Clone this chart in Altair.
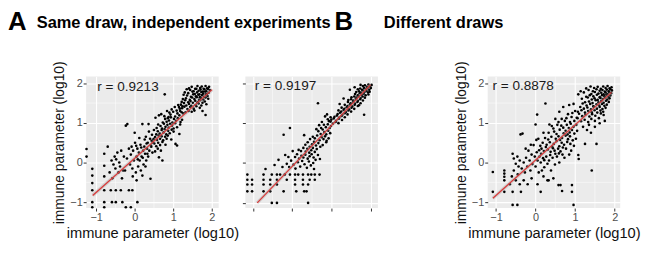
import altair as alt
import pandas as pd

# ---------------- data ----------------
p1_points = [
    # dense upper-right cluster
    (1.93,1.91),(1.88,1.87),(1.84,1.93),(1.79,1.86),(1.74,1.92),(1.70,1.88),(1.63,1.93),(1.57,1.86),(1.48,1.91),(1.41,1.87),
    (1.95,1.83),(1.90,1.86),(1.86,1.80),(1.81,1.85),(1.77,1.79),(1.71,1.84),(1.66,1.81),(1.60,1.86),(1.53,1.80),(1.44,1.83),(1.35,1.85),
    (1.92,1.76),(1.87,1.73),(1.83,1.79),(1.78,1.74),(1.73,1.78),(1.68,1.72),(1.62,1.77),(1.56,1.73),(1.50,1.79),(1.39,1.75),(1.30,1.77),
    (1.89,1.68),(1.85,1.72),(1.80,1.66),(1.75,1.70),(1.69,1.65),(1.65,1.71),(1.59,1.67),(1.52,1.72),(1.46,1.66),(1.36,1.69),(1.27,1.71),
    (1.91,1.61),(1.84,1.64),(1.78,1.59),(1.72,1.63),(1.67,1.58),(1.61,1.65),(1.55,1.60),(1.49,1.64),(1.43,1.58),(1.33,1.62),(1.25,1.60),
    (1.82,1.54),(1.76,1.51),(1.70,1.57),(1.63,1.52),(1.57,1.56),(1.51,1.51),(1.45,1.55),(1.39,1.52),(1.31,1.57),(1.22,1.53),
    (1.86,1.47),(1.73,1.44),(1.66,1.49),(1.58,1.45),(1.47,1.43),(1.41,1.48),(1.34,1.44),(1.28,1.50),(1.20,1.46),
    (1.69,1.38),(1.60,1.42),(1.53,1.36),(1.44,1.40),(1.37,1.35),(1.29,1.41),(1.23,1.37),
    (1.76,1.30),(1.84,1.20),(1.55,1.31),(1.48,1.28),(1.40,1.30),(1.32,1.27),(1.26,1.24),(1.18,1.30),(1.15,1.40),
    # middle band
    (1.24,1.42),(1.17,1.36),(1.09,1.31),(1.04,1.40),(0.96,1.34),(0.84,1.30),(1.13,1.45),
    (1.22,1.27),(1.16,1.19),(1.11,1.24),(1.05,1.16),(1.00,1.28),(0.93,1.21),(0.88,1.15),(0.77,1.17),(0.69,1.22),(0.63,1.19),(0.90,1.26),
    (1.23,1.08),(1.19,1.02),(1.12,1.12),(1.07,1.05),(1.02,1.10),(0.98,1.01),(0.94,1.14),(0.89,1.06),(0.83,1.03),(0.79,1.10),
    (0.73,1.01),(0.54,1.13),(0.86,1.12),
    (1.18,0.96),(1.10,0.89),(1.05,0.99),(1.01,0.86),(0.97,0.93),(0.92,0.98),(0.88,0.88),(0.85,0.95),(0.80,0.90),(0.76,0.98),
    (0.71,0.86),(0.67,0.92),(0.61,0.96),(0.57,0.87),
    (1.16,0.72),(1.01,0.78),(0.96,0.83),(0.91,0.74),(0.87,0.80),(0.82,0.71),(0.78,0.84),(0.75,0.76),(0.70,0.82),(0.65,0.73),
    (0.60,0.79),(0.56,0.71),(0.50,0.82),
    (0.95,0.58),(0.86,0.68),(0.83,0.60),(0.79,0.65),(0.74,0.56),(0.70,0.66),(0.66,0.60),(0.62,0.68),(0.58,0.57),(0.53,0.64),(0.49,0.59),
    (1.06,0.47),(1.10,0.43),(0.80,0.45),(0.72,0.52),(0.66,0.44),(0.61,0.50),(0.56,0.41),(0.51,0.48),(0.46,0.53),(0.42,0.43),
    (0.78,1.72),(0.72,0.05),(0.63,0.13),(0.60,0.35),(0.53,0.28),(0.68,0.30),
    # lower middle
    (0.48,0.50),(0.46,0.25),(0.45,0.70),(0.43,0.40),(0.41,-0.41),(0.40,0.60),(0.38,0.30),(0.36,0.97),(0.35,0.15),(0.34,0.50),
    (0.32,0.35),(0.30,0.05),(0.29,0.65),(0.27,0.22),(0.25,0.40),(0.23,-0.05),(0.22,0.30),(0.20,0.97),(0.20,-0.33),(0.18,0.15),
    (0.16,-0.20),(0.15,0.45),(0.13,0.05),(0.11,0.25),(0.09,-0.10),(0.07,0.35),(0.05,0.15),(0.03,-0.25),(0.01,0.50),(0.00,0.75),
    (-0.02,0.05),(-0.04,0.30),(-0.06,-0.15),(-0.08,0.40),(-0.10,0.20),(-0.12,-0.05),(-0.15,0.35),(-0.19,0.97),(-0.20,0.10),
    (-0.23,0.93),(-0.25,-0.20),(-0.28,0.15),(0.05,-0.45),(-0.05,-0.35),(0.28,-0.10),
    (0.37,0.78),(0.33,0.22),(0.31,0.48),(0.26,0.58),(0.21,0.12),(0.17,0.38),(0.12,0.62),(0.08,0.08),(0.04,0.42),(0.44,0.55),
    # lower left, partly on discrete levels
    (-1.25,0.34),(-1.25,0.15),
    (-1.10,-0.16),(-1.10,-0.33),(-1.10,-0.52),(-1.10,-0.70),(-1.10,-1.00),(-1.10,-1.13),
    (-0.79,0.22),(-0.79,-0.08),(-0.79,-0.35),(-0.79,-0.70),(-0.79,-1.00),(-0.79,-1.13),
    (-0.62,-0.70),(-0.49,-0.70),(-0.36,-0.70),(-0.15,-0.70),(-0.06,-0.70),
    (-0.59,-1.00),(-0.49,-1.00),(-0.32,-1.00),(0.07,-1.00),(-0.23,-1.13),(-0.10,-1.13),
    (-0.60,0.05),(-0.55,-0.05),(-0.52,0.15),(-0.50,-0.15),(-0.48,0.08),(-0.45,0.25),(-0.42,-0.25),(-0.40,0.00),(-0.38,-0.10),
    (-0.35,0.30),(-0.33,-0.40),(-0.30,-0.20),(-0.65,-0.25),(-0.70,0.40),(-0.58,-0.40),
]

p2_points = [
    # dense upper-right cluster
    (2.01,1.96),(1.97,1.92),(1.93,1.97),(1.89,1.91),(1.84,1.95),(1.79,1.93),(1.73,1.96),
    (1.99,1.88),(1.95,1.84),(1.91,1.89),(1.87,1.85),(1.82,1.88),(1.77,1.84),(1.72,1.87),(1.66,1.85),
    (1.96,1.79),(1.92,1.77),(1.88,1.81),(1.83,1.78),(1.79,1.82),(1.74,1.77),(1.69,1.80),(1.62,1.78),
    (1.93,1.72),(1.86,1.70),(1.81,1.74),(1.76,1.71),(1.71,1.75),(1.66,1.70),(1.59,1.73),
    (1.84,1.64),(1.78,1.67),(1.73,1.63),(1.68,1.68),(1.63,1.64),(1.57,1.67),(1.50,1.65),
    (1.79,1.57),(1.72,1.60),(1.66,1.56),(1.61,1.61),(1.55,1.57),(1.49,1.60),(1.42,1.58),
    (1.73,1.50),(1.65,1.53),(1.59,1.49),(1.54,1.54),(1.48,1.50),(1.41,1.53),
    (1.66,1.43),(1.58,1.46),(1.52,1.42),(1.46,1.47),(1.40,1.43),(1.33,1.46),
    (1.57,1.36),(1.50,1.39),(1.44,1.35),(1.38,1.40),(1.32,1.36),(1.25,1.39),
    (1.49,1.29),(1.42,1.32),(1.36,1.28),(1.30,1.33),(1.24,1.29),(1.17,1.32),
    (1.40,1.22),(1.33,1.25),(1.27,1.21),(1.21,1.26),(1.15,1.23),
    (1.33,1.15),(1.25,1.18),(1.19,1.14),(1.13,1.19),(1.07,1.16),
    (1.26,1.08),(1.18,1.11),(1.11,1.06),(1.05,1.12),(0.99,1.09),
    (1.17,1.00),(1.10,1.03),(1.03,0.99),(0.97,1.04),
    (1.82,1.21),(1.69,1.45),(0.65,1.50),(1.58,1.90),(1.46,1.84),(1.30,1.62),(1.20,1.48),
    # middle
    (0.97,1.15),(0.90,1.10),(0.83,1.17),(0.75,1.03),(0.88,1.22),(0.93,1.05),
    (0.98,0.93),(0.95,0.88),(0.90,0.97),(0.85,0.90),(0.80,0.96),(0.73,0.88),(0.68,0.95),(-0.06,0.88),
    (0.96,0.75),(0.91,0.81),(0.86,0.72),(0.81,0.78),(0.77,0.84),(0.72,0.73),(0.66,0.80),(0.61,0.85),(-0.22,0.71),(0.30,0.70),
    (0.92,0.62),(0.87,0.56),(0.83,0.67),(0.79,0.60),(0.74,0.65),(0.69,0.57),(0.63,0.69),(0.57,0.62),(0.52,0.66),(0.45,0.60),
    (0.86,0.52),(0.77,0.45),(0.71,0.41),(0.66,0.50),(0.60,0.44),(0.55,0.53),(0.50,0.47),(0.44,0.41),(0.39,0.52),(0.33,0.46),
    (0.62,0.35),(0.57,0.28),(0.52,0.38),(0.48,0.32),(0.43,0.26),(0.38,0.36),(0.34,0.29),(0.28,0.38),(0.22,0.30),(0.16,0.33),(0.01,0.30),
    (0.65,0.20),(0.54,0.14),(0.49,0.22),(0.44,0.17),(0.39,0.11),(0.33,0.21),(0.28,0.14),(0.23,0.18),(0.17,0.11),(0.12,0.22),
    (0.07,0.15),(-0.10,0.15),(-0.18,0.20),(0.70,0.10),
    (0.59,0.08),(0.53,0.00),(0.47,-0.06),(0.42,0.04),(0.37,-0.12),(0.31,-0.03),(0.25,0.05),(0.20,-0.09),(0.14,0.02),(0.08,-0.14),
    (0.03,-0.04),(-0.03,0.06),(-0.08,-0.10),(-0.14,-0.02),(-0.25,-0.10),(0.55,-0.15),(-0.35,0.08),(-0.45,-0.05),
    # discrete low levels
    (-0.73,-0.29),(-0.52,-0.29),(-0.39,-0.29),(-0.31,-0.29),(-0.19,-0.29),(-0.06,-0.29),(0.07,-0.29),(0.15,-0.29),(0.27,-0.29),
    (0.40,-0.29),(0.48,-0.29),(0.57,-0.29),(0.69,-0.29),
    (-0.73,-0.42),(-0.56,-0.42),(-0.39,-0.42),(-0.14,-0.42),(0.07,-0.42),(0.27,-0.42),(0.44,-0.42),(0.57,-0.42),
    (-0.73,-0.54),(-0.56,-0.54),(-0.39,-0.54),(0.07,-0.54),(0.27,-0.54),(0.40,-0.54),
    (-0.73,-0.71),(-0.56,-0.71),(-0.22,-0.71),(0.10,-0.71),(0.30,-0.71),(0.36,-0.71),
    (-0.52,-1.00),(-0.39,-1.00),(0.40,-1.00),
    (-1.14,-0.29),(-1.14,-0.42),(-1.14,-0.54),(-1.14,-0.71),(-1.02,-0.42),(-1.02,-0.54),(-1.02,-0.71),
    (-0.68,-0.15),
]

p3_points = [
    # upper-right cluster
    (1.92,1.90),(1.87,1.87),(1.82,1.93),(1.77,1.88),(1.71,1.92),(1.65,1.86),(1.57,1.91),(1.48,1.88),(1.39,1.92),(1.28,1.87),
    (1.93,1.82),(1.89,1.85),(1.85,1.80),(1.80,1.84),(1.75,1.79),(1.69,1.83),(1.62,1.81),(1.54,1.85),(1.45,1.80),(1.34,1.83),(1.14,1.80),
    (1.91,1.75),(1.86,1.78),(1.82,1.73),(1.77,1.77),(1.72,1.72),(1.66,1.76),(1.59,1.74),(1.50,1.78),(1.41,1.73),(1.22,1.77),(1.08,1.72),
    (1.89,1.69),(1.84,1.66),(1.79,1.71),(1.74,1.67),(1.68,1.70),(1.62,1.65),(1.55,1.71),(1.46,1.67),(1.37,1.70),(1.28,1.66),
    (1.87,1.62),(1.81,1.59),(1.76,1.64),(1.70,1.60),(1.64,1.63),(1.57,1.58),(1.49,1.62),(1.42,1.59),(1.32,1.64),(1.17,1.61),
    (1.85,1.53),(1.78,1.56),(1.72,1.51),(1.66,1.55),(1.59,1.52),(1.52,1.57),(1.44,1.50),(1.35,1.54),(1.25,1.52),
    (1.80,1.46),(1.74,1.43),(1.68,1.48),(1.61,1.44),(1.54,1.47),(1.46,1.42),(1.38,1.48),(1.29,1.44),(1.19,1.49),
    (1.77,1.38),(1.69,1.35),(1.62,1.40),(1.55,1.36),(1.47,1.41),(1.40,1.34),(1.31,1.39),(1.22,1.36),(1.13,1.40),
    (1.71,1.28),(1.64,1.31),(1.56,1.26),(1.49,1.32),(1.42,1.27),(1.33,1.30),(1.25,1.26),(1.16,1.32),(1.07,1.28),
    (1.72,1.20),(1.65,1.24),(1.51,1.18),(1.43,1.22),(1.36,1.16),(1.26,1.21),(1.18,1.17),(1.10,1.23),
    (1.60,1.12),(1.50,1.05),(1.41,1.10),(1.33,1.02),(1.24,1.08),(1.15,1.04),(1.06,1.12),
    (1.54,0.47),(1.42,-0.20),(1.25,0.47),(1.08,0.19),(1.09,0.09),(1.35,0.95),(1.75,1.05),(1.40,0.75),(1.50,0.90),(1.30,0.82),
    (1.20,0.90),(1.62,0.99),
    # broad middle
    (1.00,1.30),(0.93,1.25),(0.82,1.22),(0.70,1.40),(0.85,1.45),(0.96,1.48),(0.25,1.49),(0.04,1.21),(0.60,1.28),
    (1.04,1.13),(0.98,1.05),(0.91,1.15),(0.87,1.02),(0.78,1.12),(0.74,1.05),(0.66,1.10),(0.50,1.10),(0.58,1.02),
    (1.03,0.95),(0.96,0.90),(0.89,0.98),(0.84,0.87),(0.79,0.95),(0.70,0.88),(0.65,0.93),(0.55,0.95),(0.45,0.86),(0.41,0.92),
    (0.35,0.96),(0.00,0.96),
    (1.05,0.80),(0.98,0.73),(0.92,0.82),(0.86,0.76),(0.81,0.71),(0.76,0.80),(0.71,0.74),(0.61,0.83),(0.53,0.72),(0.47,0.78),
    (0.33,0.75),(0.20,0.75),(-0.33,0.73),(-0.38,0.71),
    (1.02,0.60),(0.94,0.56),(0.87,0.66),(0.82,0.59),(0.76,0.68),(0.67,0.62),(0.62,0.57),(0.58,0.66),(0.51,0.60),(0.40,0.65),
    (0.32,0.58),(0.24,0.62),(0.07,0.60),(0.02,0.57),
    (0.97,0.42),(0.88,0.47),(0.80,0.52),(0.72,0.45),(0.66,0.50),(0.60,0.41),(0.53,0.54),(0.46,0.47),(0.42,0.40),(0.36,0.51),
    (0.28,0.45),(0.18,0.50),(0.12,0.42),(-0.05,0.44),(-0.12,0.45),
    (0.90,0.30),(0.77,0.35),(0.69,0.38),(0.63,0.28),(0.57,0.35),(0.48,0.30),(0.44,0.36),(0.38,0.27),(0.31,0.33),(0.26,0.39),
    (0.21,0.29),(0.15,0.35),(0.09,0.31),(0.03,0.26),(-0.18,0.30),(-0.25,0.35),
    (0.85,0.20),(0.73,0.12),(0.68,0.20),(0.59,0.23),(0.54,0.15),(0.50,0.22),(0.43,0.12),(0.37,0.19),(0.27,0.15),(0.19,0.11),
    (0.14,0.22),(0.10,0.15),(-0.02,0.15),(-0.10,0.20),(-0.24,0.12),(-0.46,0.15),(-0.55,0.10),(-0.58,0.22),
    (0.60,0.00),(0.49,-0.05),(0.34,0.05),(0.30,-0.03),(0.22,0.06),(0.13,0.00),(0.05,0.05),(-0.08,-0.04),(-0.15,0.05),(-0.30,0.00),
    (-0.40,0.05),(-0.50,-0.03),
    (0.39,-0.20),(0.22,-0.12),(0.16,-0.20),(0.08,-0.25),(0.00,-0.10),(-0.13,-0.20),(-0.21,-0.10),(-0.27,-0.25),(-0.35,-0.15),
    (-0.43,-0.10),
    # lower part
    (-1.08,-0.24),(-1.08,-0.74),(-0.79,-0.20),(-0.79,-0.28),(-0.79,-0.36),(-0.79,-0.45),(-0.79,-0.74),(-0.58,-0.74),(-0.37,-0.74),
    (-0.58,-1.07),(-0.46,-1.07),(0.96,-1.07),(0.13,-0.74),(0.63,-0.57),(0.67,-0.72),(0.92,-0.57),(0.92,-0.74),(0.33,-0.45),
    (0.30,-0.45),(0.58,-0.57),(-0.60,-0.35),(-0.50,-0.45),(-0.40,-0.55),(-0.30,-0.45),(-0.20,-0.55),(-0.55,-0.20),(-0.45,-0.30),
    (-0.10,-0.40),(0.05,-0.55),(0.20,-0.35),(0.45,-0.40),(-0.65,-0.55),
]

# fitted (lm) line end points
fit1_x = [-1.09, 2.01]
fit1_y = [-0.83, 1.84]
fit2_x = [-0.89, 1.98]
fit2_y = [-1.00, 1.96]
fit3_x = [-1.08, 1.92]
fit3_y = [-0.90, 1.77]

# axis domains of each panel
x_dom1 = [-1.26, 2.18]
y_dom1 = [-1.15, 2.17]
x_dom2 = [-1.19, 2.17]
y_dom2 = [-1.13, 2.17]
x_dom3 = [-1.21, 2.14]
y_dom3 = [-1.15, 2.17]

tick_values = [-1, 0, 1, 2]
minor_values = [-0.5, 0.5, 1.5]

r_labels = ["r = 0.9213", "r = 0.9197", "r = 0.8878"]
r_x = [-0.97, -0.95, -1.09]
r_y = [1.90, 1.92, 1.94]

axis_title = "immune parameter (log10)"
letters = ["A", "B"]
headings = ["Same draw, independent experiments", "Different draws"]

FONT = "Liberation Sans"
W, H = 134, 133


def make_axis(show, title, tsize):
    if show:
        return alt.Axis(values=tick_values, title=title, grid=True, gridColor="white",
                        gridWidth=1.1, domain=False, ticks=True, tickSize=3,
                        tickColor="#333333", labelFontSize=11, labelColor="#4d4d4d",
                        labelFont=FONT, labelPadding=1, titleFont=FONT,
                        titleFontSize=tsize, titleFontWeight="normal", titleColor="#111111",
                        titlePadding=3, format="d")
    return alt.Axis(values=tick_values, title=None, grid=True, gridColor="white",
                    gridWidth=1.1, domain=False, ticks=True, tickSize=3,
                    tickColor="#333333", labels=False)


def panel(points, fx, fy, xdom, ydom, idx, show, head=None):
    pts = pd.DataFrame(points, columns=["x", "y"])
    fit = pd.DataFrame({"x": fx, "y": fy})
    xs = alt.Scale(domain=xdom, nice=False, zero=False)
    ys = alt.Scale(domain=ydom, nice=False, zero=False)
    xa = make_axis(show, axis_title if show else None, 14.8)
    ya = make_axis(show, axis_title if show else None, 14)
    X = alt.X("x:Q", scale=xs, axis=xa)
    Y = alt.Y("y:Q", scale=ys, axis=ya)

    minor_v = alt.Chart(pd.DataFrame({"x": minor_values})).mark_rule(
        color="white", strokeWidth=0.5).encode(x=X)
    minor_h = alt.Chart(pd.DataFrame({"y": minor_values})).mark_rule(
        color="white", strokeWidth=0.5).encode(y=Y)
    dots = alt.Chart(pts).mark_circle(size=7, color="black", opacity=1).encode(x=X, y=Y)
    band = alt.Chart(fit).mark_line(color="#9a9a9a", strokeWidth=3.5, opacity=0.35).encode(x=X, y=Y)
    line = alt.Chart(fit).mark_line(color="#d93a3a", strokeWidth=1.3).encode(x=X, y=Y)
    rtxt = alt.Chart(pd.DataFrame({"x": [r_x[idx]], "y": [r_y[idx]], "t": [r_labels[idx]]})).mark_text(
        align="left", baseline="middle", fontSize=13.7, font=FONT, color="#1a1a1a"
    ).encode(x=X, y=Y, text="t:N")
    layers = [minor_v, minor_h, dots, band, line, rtxt]
    if head is not None:
        k, lx, hx = head
        hd = pd.DataFrame({"L": [letters[k]], "T": [headings[k]]})
        letter = alt.Chart(hd).mark_text(
            align="left", baseline="alphabetic", fontSize=26, fontWeight="bold",
            font=FONT, color="black").encode(x=alt.value(lx), y=alt.value(-47), text="L:N")
        heading = alt.Chart(hd).mark_text(
            align="left", baseline="alphabetic", fontSize=16.6, fontWeight="bold",
            font=FONT, color="black").encode(x=alt.value(hx), y=alt.value(-49), text="T:N")
        layers += [letter, heading]
    return alt.layer(*layers).properties(
        width=W, height=H, view=alt.ViewBackground(fill="#EBEBEB", strokeWidth=0))


p1 = panel(p1_points, fit1_x, fit1_y, x_dom1, y_dom1, 0, True, head=(0, -79, -50))
p2 = panel(p2_points, fit2_x, fit2_y, x_dom2, y_dom2, 1, False)
p3 = panel(p3_points, fit3_x, fit3_y, x_dom3, y_dom3, 2, True, head=(1, -155, -105))

spacer = alt.Chart(pd.DataFrame({"v": [0]})).mark_point(opacity=0).encode(
    x=alt.X("v:Q", axis=None), y=alt.Y("v:Q", axis=None)
).properties(width=57, height=H)

chart = alt.hconcat(p1, p2, spacer, p3, spacing=27, bounds="flush").properties(
    padding=0, background="white"
).configure_view(strokeWidth=0)

chart.save("out.html", embed_options={"renderer": "svg", "actions": False})
